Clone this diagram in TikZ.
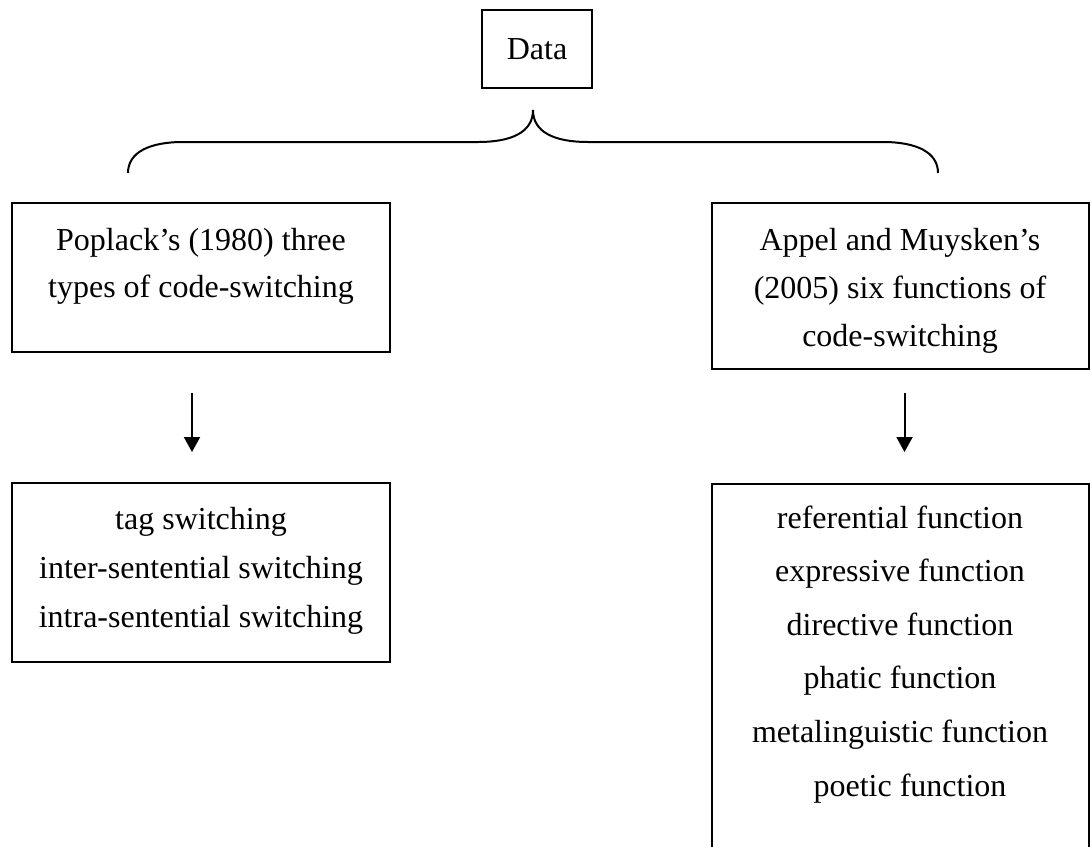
\documentclass[tikz,border=0pt]{standalone}
\usepackage{fontspec}
\setmainfont{Liberation Serif}
\usetikzlibrary{arrows.meta}
\begin{document}
\begin{tikzpicture}[x=1pt,y=-1pt,
  box/.style={draw, line width=2pt, inner sep=0pt},
  txt/.style={anchor=base, inner sep=0pt, font=\fontsize{32}{38}\selectfont},
  flow/.style={line width=2pt, -{Triangle[width=16pt,length=15pt]}},
  brace/.style={line width=2pt}]
\useasboundingbox (0,0) rectangle (1092,846);

% root box
\node[box, txt, anchor=center, minimum width=110pt, minimum height=78pt] (data) at (537,49) {Data};

% curly brace under the root
\draw[brace] (128,173) .. controls (128,152) and (150,142) .. (183,142)
  -- (478,142) .. controls (512,142) and (533,132) .. (533,110)
  .. controls (533,132) and (554,142) .. (588,142)
  -- (883,142) .. controls (916,142) and (938,152) .. (938,173);

% first branch
\node[box, minimum width=378pt, minimum height=149pt] (pop) at (201,277.5) {};
\node[txt] (pop1) at (201,250) {Poplack’s (1980) three};
\node[txt] (pop2) at (201,297) {types of code-switching};

\node[box, minimum width=378pt, minimum height=179pt] (types) at (201,572.5) {};
\node[txt] (ty1) at (201,529) {tag switching};
\node[txt] (ty2) at (201,578) {inter-sentential switching};
\node[txt] (ty3) at (201,627) {intra-sentential switching};

\draw[flow, shorten <=40pt, shorten >=30pt] ([xshift=-9pt]pop.south) -- ([xshift=-9pt]types.north);

% second branch
\node[box, minimum width=377pt, minimum height=166pt] (app) at (900.5,286) {};
\node[txt] (app1) at (900,250) {Appel and Muysken’s};
\node[txt] (app2) at (900,298) {(2005) six functions of};
\node[txt] (app3) at (900,346) {code-switching};

% lower box runs past the bottom edge of the page
\node[box, minimum width=377pt, minimum height=440pt] (funcs) at (900.5,704) {};
\foreach \t [count=\i] in {referential function, expressive function, directive function, phatic function, metalinguistic function}
  \node[txt] (fn\i) at (900,474.5+53.6*\i) {\t};
\node[txt] (fn6) at (910,796.5) {poetic function};

\draw[flow, shorten <=23pt, shorten >=31pt] ([xshift=4pt]app.south) -- ([xshift=4pt]funcs.north);
\end{tikzpicture}
\end{document}
